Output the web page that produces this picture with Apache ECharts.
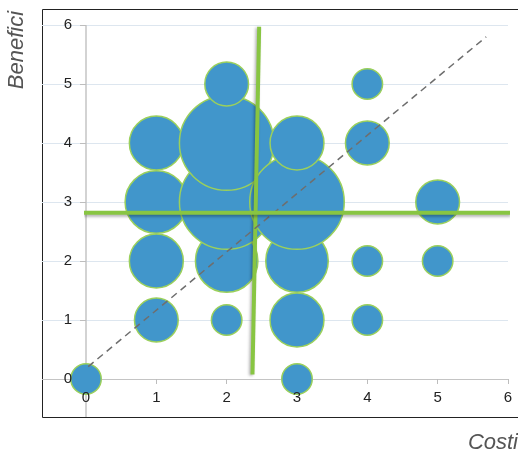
<!DOCTYPE html>
<html>
<head>
<meta charset="utf-8">
<script src="https://cdn.jsdelivr.net/npm/echarts@6/dist/echarts.min.js"></script>
<style>html,body{margin:0;padding:0;background:#fff}#c{width:518px;height:456px}</style>
</head>
<body>
<div id="c"></div>
<script>
// Bubble data: cost (x), benefit (y), count (bubble size)
const bubbleX     = [0, 1, 1, 1, 1, 2, 2, 2, 2, 2, 3, 3, 3, 3, 3, 4, 4, 4, 4, 5, 5];
const bubbleY     = [0, 1, 2, 3, 4, 1, 2, 3, 4, 5, 0, 1, 2, 3, 4, 1, 2, 4, 5, 2, 3];
const bubbleCount = [1, 2, 3, 4, 3, 1, 4, 9, 9, 2, 1, 3, 4, 9, 3, 1, 1, 2, 1, 1, 2];
// Tick labels
const tickValues = [0, 1, 2, 3, 4, 5, 6];
// Reference lines (data units)
const meanCostLineX = [2.462, 2.367];
const meanCostLineY = [5.97, 0.075];
const diagLineX = [-0.10, 5.69];
const diagLineY = [0.08, 5.80];
const meanBenefitLineX = [-0.03, 6.04];
const meanBenefitLineY = [2.816, 2.816];
const axisNames = { x: 'Costi', y: 'Benefici' };

const pairs = (xs, ys) => xs.map((x, i) => [x, ys[i]]);
const bubbles = bubbleX.map((x, i) => [x, bubbleY[i], bubbleCount[i]]);

// Extended (framed) range around the 0..6 data range
const xMinExt = -0.6256, yMinExt = -0.644;
const labelFont = { color: '#222', fontSize: 15, fontFamily: 'Liberation Sans, Arial, sans-serif' };
const axisGray = '#c4c4c4', gridBlue = '#dde6ef';

const chart = echarts.init(document.getElementById('c'), null, { renderer: 'canvas' });
chart.setOption({
  animation: false,
  grid: [
    { left: 86, right: 10, top: 25, bottom: 77 },   // data grid 0..6
    { left: 42, right: 10, top: 25, bottom: 39 }    // extended grid for lines
  ],
  xAxis: [
    {
      type: 'value', gridIndex: 0, min: 0, max: 6, position: 'bottom', z: 0,
      axisLine: { show: false, onZero: false },
      axisTick: { show: true, customValues: tickValues, length: 5, lineStyle: { color: '#bdbdbd', width: 1 } },
      axisLabel: { show: false },
      splitLine: { show: false }
    },
    {
      type: 'value', gridIndex: 1, min: xMinExt, max: 6,
      axisLine: { show: false, onZero: false },
      axisTick: { show: false, customValues: [0] },
      axisLabel: { show: false },
      splitLine: { show: true, lineStyle: { color: axisGray, width: 1.5 } }
    },
    {
      type: 'value', gridIndex: 0, min: 0, max: 6, position: 'bottom', z: 10,
      axisLine: { show: false, onZero: false },
      axisTick: { show: false },
      axisLabel: Object.assign({ show: true, customValues: tickValues, margin: 11 }, labelFont),
      splitLine: { show: false }
    }
  ],
  yAxis: [
    {
      type: 'value', gridIndex: 0, min: 0, max: 6, position: 'left', z: 0,
      axisLine: { show: false, onZero: false },
      axisTick: { show: true, customValues: tickValues, length: 6, lineStyle: { color: '#bdbdbd', width: 1 } },
      axisLabel: { show: false },
      splitLine: { show: false }
    },
    {
      type: 'value', gridIndex: 1, min: yMinExt, max: 6,
      axisLine: { show: false, onZero: false },
      axisTick: { show: false, customValues: tickValues },
      axisLabel: { show: false },
      splitLine: { show: true, lineStyle: { color: [axisGray, gridBlue, gridBlue, gridBlue, gridBlue, gridBlue, gridBlue], width: 1 } }
    },
    {
      type: 'value', gridIndex: 0, min: 0, max: 6, position: 'left', z: 10,
      axisLine: { show: false, onZero: false },
      axisTick: { show: false },
      axisLabel: Object.assign({ show: true, customValues: tickValues, margin: 14 }, labelFont),
      splitLine: { show: false }
    }
  ],
  graphic: [
    {
      type: 'rect', silent: true, z: -10,
      shape: { x: 42.5, y: 9.5, width: 490, height: 408 },
      style: { fill: 'none', stroke: '#222', lineWidth: 1 }
    },
    {
      type: 'text', x: 17, y: 50, rotation: Math.PI / 2,
      style: { text: axisNames.y, fill: '#555', font: 'italic 22px "Liberation Sans", Arial, sans-serif', textAlign: 'center', textVerticalAlign: 'middle' }
    },
    {
      type: 'text', x: 518, y: 443,
      style: { text: axisNames.x, fill: '#555', font: 'italic 22px "Liberation Sans", Arial, sans-serif', textAlign: 'right', textVerticalAlign: 'middle' }
    }
  ],
  series: [
    {
      type: 'scatter', xAxisIndex: 0, yAxisIndex: 0, z: 2, clip: false,
      data: bubbles,
      symbol: 'circle',
      symbolSize: d => 32 * Math.sqrt(d[2]) - 1.5,
      itemStyle: { color: '#4196cb', borderColor: '#9bd05c', borderWidth: 1.5, opacity: 1 },
      emphasis: { disabled: true }
    },
    {
      type: 'line', xAxisIndex: 0, yAxisIndex: 0, z: 3, clip: false,
      data: pairs(meanCostLineX, meanCostLineY), symbol: 'none', silent: true,
      lineStyle: { color: '#88c542', width: 4, shadowColor: 'rgba(0,0,0,0.3)', shadowBlur: 3, shadowOffsetX: -1.5, shadowOffsetY: 1 }
    },
    {
      type: 'line', xAxisIndex: 0, yAxisIndex: 0, z: 4, clip: false,
      data: pairs(diagLineX, diagLineY), symbol: 'none', silent: true,
      lineStyle: { color: '#6e6e6e', width: 1.5, type: [7, 5] }
    },
    {
      type: 'line', xAxisIndex: 0, yAxisIndex: 0, z: 5, clip: false,
      data: pairs(meanBenefitLineX, meanBenefitLineY), symbol: 'none', silent: true,
      lineStyle: { color: '#88c542', width: 4, shadowColor: 'rgba(0,0,0,0.3)', shadowBlur: 3, shadowOffsetX: 0, shadowOffsetY: 2 }
    }
  ]
});
</script>
</body>
</html>
